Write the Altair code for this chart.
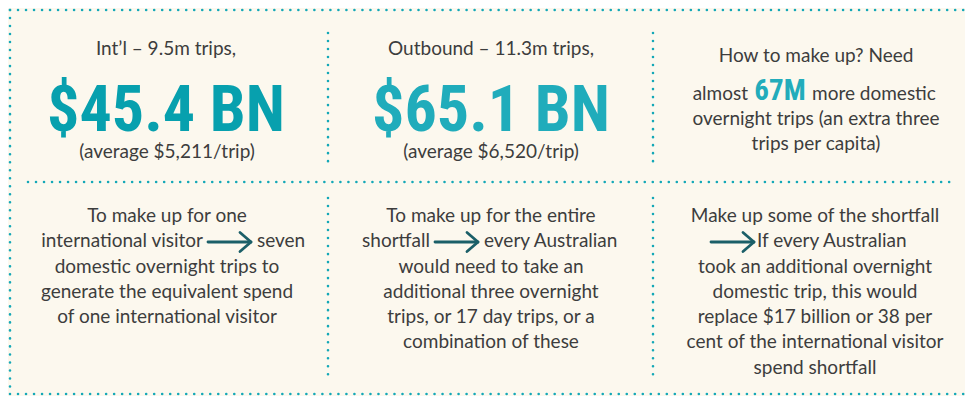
import altair as alt
import pandas as pd

# ---------------- content ----------------
BODY_FONT = "Lato"
BIG_FONT = "Roboto Condensed, Open Sans Condensed, DejaVu Sans Condensed, sans-serif"

# Centered body lines: text, panel centre x, baseline y
centre_text = [
    "Int\u2019l \u2013 9.5m trips,",
    "(average $5,211/trip)",
    "Outbound \u2013 11.3m trips,",
    "(average $6,520/trip)",
    "How to make up? Need",
    "overnight trips (an extra three",
    "trips per capita)",
    "To make up for one",
    "domestic overnight trips to",
    "generate the equivalent spend",
    "of one international visitor",
    "To make up for the entire",
    "would need to take an",
    "additional three overnight",
    "trips, or 17 day trips, or a",
    "combination of these",
    "Make up some of the shortfall",
    "took an additional overnight",
    "domestic trip, this would",
    "replace $17 billion or 38 per",
    "cent of the international visitor",
    "spend shortfall",
]
centre_x = [166, 167, 491, 491, 816, 816, 816,
            167, 167, 167, 167,
            491, 491, 491, 491, 491,
            815, 815, 815, 815, 815, 815]
centre_y = [55, 158, 55, 158, 62, 125, 150,
            222, 273, 298, 323,
            222, 273, 298, 323, 348,
            222, 273, 298, 323, 348, 374]

# Text ending just before an element (right aligned)
left_text = ["international visitor", "shortfall", "almost"]
left_x = [203, 430, 748]
left_y = [247, 247, 100]

# Text starting just after an element (left aligned)
right_text = ["seven", "every Australian", "If every Australian", "more domestic"]
right_x = [257, 484, 757, 812]
right_y = [247, 247, 247, 100]

# Headline figures
big_text = ["$45.4 BN", "$65.1 BN"]
big_x = [166, 491]
big_y = [131, 131]
big_color = ["#07a0ae", "#20acbb"]

mid_text = ["67M"]
mid_x = [780]
mid_y = [100]

# Arrows: shaft start, tip, y
arrow_x0 = [208, 435, 711]
arrow_x1 = [251, 478, 754]
arrow_y = [242, 242, 242]

# Dotted frame segments
dot_x0 = [10, 10, 10, 28, 328, 653, 328, 653]
dot_x1 = [965, 10, 965, 957, 328, 653, 328, 653]
dot_y0 = [10, 10, 394, 182, 33, 33, 198, 198]
dot_y1 = [10, 394, 394, 182, 165, 165, 377, 377]

# ---------------- tables ----------------
centre_df = pd.DataFrame({"text": centre_text, "x": centre_x, "y": centre_y})
left_df = pd.DataFrame({"text": left_text, "x": left_x, "y": left_y})
right_df = pd.DataFrame({"text": right_text, "x": right_x, "y": right_y})
big_df = pd.DataFrame({"text": big_text, "x": big_x, "y": big_y, "c": big_color})
mid_df = pd.DataFrame({"text": mid_text, "x": mid_x, "y": mid_y})
dots_df = pd.DataFrame({"x": dot_x0, "x2": dot_x1, "y": dot_y0, "y2": dot_y1})

arrow_rows = []
for x0, x1, y in zip(arrow_x0, arrow_x1, arrow_y):
    arrow_rows.append({"x": x0, "x2": x1 - 1, "y": y, "y2": y})
    arrow_rows.append({"x": x1 - 11, "x2": x1, "y": y - 9.5, "y2": y})
    arrow_rows.append({"x": x1 - 11, "x2": x1, "y": y + 9.5, "y2": y})
arrow_df = pd.DataFrame(arrow_rows)

# ---------------- scales ----------------
W, H = 957, 388
xsc = alt.Scale(domain=[8, 8 + W], range=[0, W], nice=False, zero=False)
ysc = alt.Scale(domain=[8, 8 + H], range=[0, H], nice=False, zero=False)
X = alt.X("x:Q", scale=xsc, axis=None)
Y = alt.Y("y:Q", scale=ysc, axis=None)

TEXT_COL = "#3d3d3d"

dots = alt.Chart(dots_df).mark_rule(
    color="#14a8b7", strokeWidth=2.6, strokeCap="round", strokeDash=[0.01, 8]
).encode(X, Y, x2="x2:Q", y2="y2:Q")

arrows = alt.Chart(arrow_df).mark_rule(
    color="#1b5f68", strokeWidth=2.8, strokeCap="round"
).encode(X, Y, x2="x2:Q", y2="y2:Q")

centre = alt.Chart(centre_df).mark_text(
    font=BODY_FONT, fontSize=19, color=TEXT_COL, align="center", baseline="alphabetic"
).encode(X, Y, text="text:N")

left = alt.Chart(left_df).mark_text(
    font=BODY_FONT, fontSize=19, color=TEXT_COL, align="right", baseline="alphabetic"
).encode(X, Y, text="text:N")

right = alt.Chart(right_df).mark_text(
    font=BODY_FONT, fontSize=19, color=TEXT_COL, align="left", baseline="alphabetic"
).encode(X, Y, text="text:N")

big = alt.Chart(big_df).mark_text(
    font=BIG_FONT, fontSize=64, fontWeight="bold", align="center", baseline="alphabetic"
).encode(X, Y, text="text:N", color=alt.Color("c:N", scale=None))

mid = alt.Chart(mid_df).mark_text(
    font=BIG_FONT, fontSize=29, fontWeight="bold", color="#22acbb",
    align="center", baseline="alphabetic"
).encode(X, Y, text="text:N")

chart = alt.layer(dots, arrows, centre, left, right, big, mid).properties(
    width=W, height=H, padding=0,
    autosize=alt.AutoSizeParams(type="none"),
    background="#fcf8ee",
).configure_view(stroke=None)

chart.save("out.html", embed_options={"renderer": "svg", "actions": False})
